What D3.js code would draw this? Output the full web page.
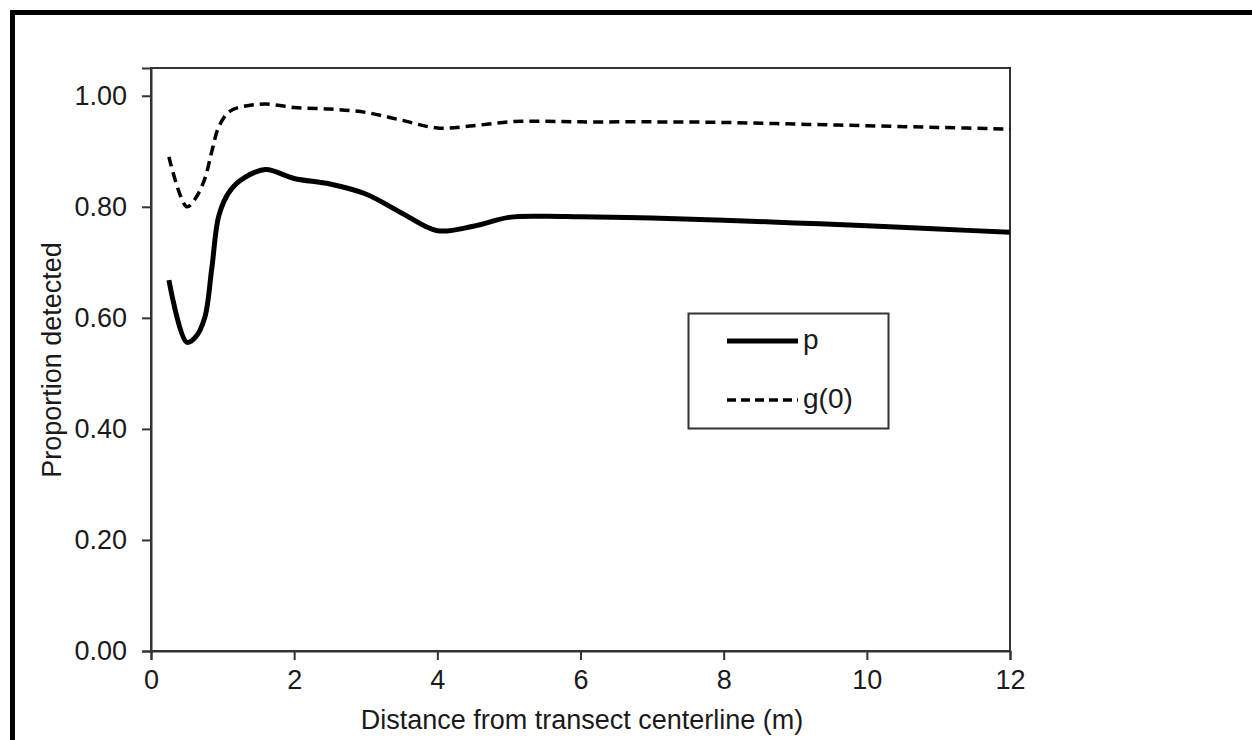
<!DOCTYPE html>
<html>
<head>
<meta charset="utf-8">
<script src="https://cdn.jsdelivr.net/npm/d3@7"></script>
<style>
body{margin:0;background:#fff;}
svg text{font-family:"Liberation Sans",Arial,sans-serif;fill:#1a1a1a;}
</style>
</head>
<body>
<div id="chart"></div>
<script>
// distance from centerline (m)
var distance=[0.25,0.5,0.62,0.75,0.85,0.95,1.1,1.3,1.6,2.0,2.5,3.0,3.5,4.0,4.5,5.0,5.5,6,7,8,9,10,11,12];
var pValues=[0.668,0.556,0.565,0.60,0.69,0.785,0.828,0.852,0.867,0.851,0.841,0.823,0.789,0.757,0.765,0.781,0.783,0.782,0.780,0.776,0.771,0.766,0.760,0.754];
var g0Values=[0.89,0.80,0.815,0.85,0.90,0.945,0.972,0.981,0.985,0.979,0.976,0.970,0.956,0.942,0.946,0.953,0.954,0.953,0.953,0.952,0.949,0.946,0.943,0.940];
var xTicks=[0,2,4,6,8,10,12];
var yTicks=[0,0.2,0.4,0.6,0.8,1.0];
var seriesNames=["p","g(0)"];

var W=1252,H=740;
var svg=d3.select("#chart").append("svg").attr("width",W).attr("height",H);

// outer frame (runs off the bottom/right of the picture)
svg.append("path")
    .attr("d","M12.5,"+(H+10)+"V12.5H"+(W+10))
    .attr("fill","none").attr("stroke","#000").attr("stroke-width",5);

var x=d3.scaleLinear().domain([0,12]).range([151,1010]);
var y=d3.scaleLinear().domain([0,1.05]).range([651,68]);

// plot frame
svg.append("rect")
    .attr("x",151).attr("y",y(1.05))
    .attr("width",1010-151).attr("height",651-y(1.05))
    .attr("fill","none").attr("stroke","#333").attr("stroke-width",2);

var xAxis=svg.append("g").attr("transform","translate(0,651)")
    .call(d3.axisBottom(x).tickValues(xTicks).tickSize(9).tickPadding(10).tickFormat(d3.format("d")));
var yAxis=svg.append("g").attr("transform","translate(151,0)")
    .call(d3.axisLeft(y).tickValues(yTicks).tickSize(9).tickPadding(15).tickFormat(d3.format(".2f")));
[xAxis,yAxis].forEach(function(a){
    a.select(".domain").attr("stroke","#333").attr("stroke-width",2);
    a.selectAll(".tick line").attr("stroke","#333").attr("stroke-width",2);
    a.selectAll(".tick text").style("font-size","27px").attr("fill","#1a1a1a");
});

svg.append("text").attr("x",582).attr("y",729).attr("text-anchor","middle")
    .style("font-size","27px").text("Distance from transect centerline (m)");
svg.append("text").attr("transform","translate(61,360) rotate(-90)").attr("text-anchor","middle")
    .style("font-size","27px").text("Proportion detected");

var line=d3.line().curve(d3.curveCatmullRom.alpha(0.5))
    .x(function(d){return x(d[0]);}).y(function(d){return y(d[1]);});

var series=[
    {name:seriesNames[0],values:pValues,width:5,dash:null},
    {name:seriesNames[1],values:g0Values,width:3.5,dash:"10,6"}
];
series.forEach(function(s){
    svg.append("path")
        .datum(distance.map(function(d,i){return [d,s.values[i]];}))
        .attr("d",line)
        .attr("fill","none").attr("stroke","#000")
        .attr("stroke-width",s.width)
        .attr("stroke-dasharray",s.dash)
        .attr("stroke-linejoin","round");
});

// legend
var lg=svg.append("g");
lg.append("rect").attr("x",688.5).attr("y",313.5).attr("width",200).attr("height",115)
    .attr("fill","#fff").attr("stroke","#333").attr("stroke-width",2);
series.forEach(function(s,i){
    var ly=341+i*59;
    lg.append("line").attr("x1",727).attr("x2",798).attr("y1",ly).attr("y2",ly)
        .attr("stroke","#000").attr("stroke-width",s.width)
        .attr("stroke-dasharray",s.dash?"9,5":null);
    lg.append("text").attr("x",803).attr("y",ly+8).style("font-size","28px").text(s.name);
});
</script>
</body>
</html>
